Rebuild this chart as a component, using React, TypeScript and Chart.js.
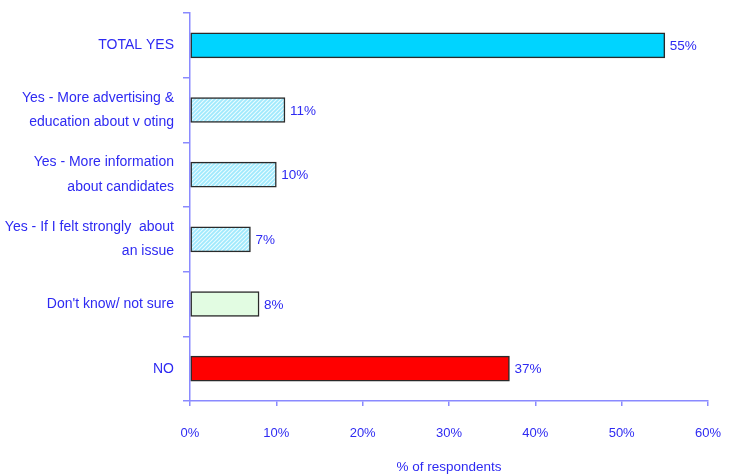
import React, { useEffect, useRef } from "react";
import { Chart, registerables } from "chart.js";

Chart.register(...registerables);

const categories: (string | string[])[] = [
  "TOTAL YES",
  ["Yes - More advertising &", "education about v oting"],
  ["Yes - More information", "about candidates"],
  ["Yes - If I felt strongly  about", "an issue"],
  "Don't know/ not sure",
  "NO",
];
const values = [55, 11, 10, 7, 8, 37];
const xTicks = [0, 10, 20, 30, 40, 50, 60];
const axisTitle = "% of respondents";

const BLUE = "#2e2af2";
const AXIS = "#8a8aff";
const FONT = "'Liberation Sans', Arial, sans-serif";

function makeHatch(): CanvasPattern | string {
  const c = document.createElement("canvas");
  c.width = 4;
  c.height = 4;
  const g = c.getContext("2d");
  if (!g) return "#bdeefc";
  g.fillStyle = "#9fe9fd";
  g.fillRect(0, 0, 4, 4);
  g.strokeStyle = "#eafcff";
  g.lineWidth = 1.1;
  g.beginPath();
  g.moveTo(0, 4);
  g.lineTo(4, 0);
  g.moveTo(-1, 1);
  g.lineTo(1, -1);
  g.moveTo(3, 5);
  g.lineTo(5, 3);
  g.stroke();
  const p = g.createPattern(c, "repeat");
  return p || "#bdeefc";
}

function zeroPad(s: any) {
  s.paddingTop = 0;
  s.paddingBottom = 0;
  s.paddingLeft = 0;
  s.paddingRight = 0;
}

export default function App() {
  const ref = useRef<HTMLCanvasElement | null>(null);

  useEffect(() => {
    if (!ref.current) return;
    const hatch = makeHatch();
    const colors = ["#00d4ff", hatch, hatch, hatch, "#e2fce2", "#ff0000"];

    const labelPlugin = {
      id: "valueLabels",
      afterDatasetsDraw(chart: any) {
        const ctx = chart.ctx;
        const meta = chart.getDatasetMeta(0);
        ctx.save();
        ctx.font = `13.5px ${FONT}`;
        ctx.fillStyle = BLUE;
        ctx.textAlign = "left";
        ctx.textBaseline = "middle";
        meta.data.forEach((bar: any, i: number) => {
          ctx.fillText(values[i] + "%", bar.x + 5, bar.y + 1);
        });
        ctx.restore();
      },
    };

    const chart = new Chart(ref.current, {
      type: "bar",
      data: {
        labels: categories,
        datasets: [
          {
            data: values,
            backgroundColor: colors as any,
            borderColor: "#2a2a2a",
            borderWidth: 1.5,
            borderSkipped: false,
            barThickness: 25,
          },
        ],
      },
      options: {
        indexAxis: "y",
        animation: false,
        responsive: false,
        maintainAspectRatio: false,
        layout: { padding: { top: 13, right: 26, bottom: 0, left: 0 } },
        plugins: {
          legend: { display: false },
          tooltip: { enabled: false },
        },
        scales: {
          x: {
            min: 0,
            max: 60,
            afterBuildTicks: (s: any) => {
              s.ticks = xTicks.map((v) => ({ value: v }));
            },
            afterFit: (s: any) => {
              s.height = 74;
              zeroPad(s);
            },
            grid: {
              drawOnChartArea: false,
              drawTicks: true,
              tickLength: 5,
              color: AXIS,
              lineWidth: 1.5,
            },
            border: { display: true, color: AXIS, width: 1.5 },
            ticks: {
              padding: 20,
              color: BLUE,
              font: { family: FONT, size: 13 },
              maxRotation: 0,
              callback: (v: any) => v + "%",
            },
            title: {
              display: true,
              text: axisTitle,
              color: BLUE,
              font: { family: FONT, size: 13.5 },
              padding: { top: 0, bottom: 0 },
            },
          },
          y: {
            afterFit: (s: any) => {
              s.width = 190;
              zeroPad(s);
            },
            grid: {
              offset: true,
              drawOnChartArea: false,
              drawTicks: true,
              tickLength: 7,
              color: AXIS,
              lineWidth: 1.5,
            },
            border: { display: true, color: AXIS, width: 1.5 },
            ticks: {
              padding: 9,
              color: BLUE,
              font: { family: FONT, size: 14, lineHeight: 1.75 },
              autoSkip: false,
            },
          },
        },
      },
      plugins: [labelPlugin],
    });
    return () => chart.destroy();
  }, []);

  return (
    <div style={{ position: "fixed", left: 0, top: 0, width: 734, height: 475, background: "#fff" }}>
      <canvas ref={ref} width={734} height={475} style={{ width: 734, height: 475 }} />
    </div>
  );
}
